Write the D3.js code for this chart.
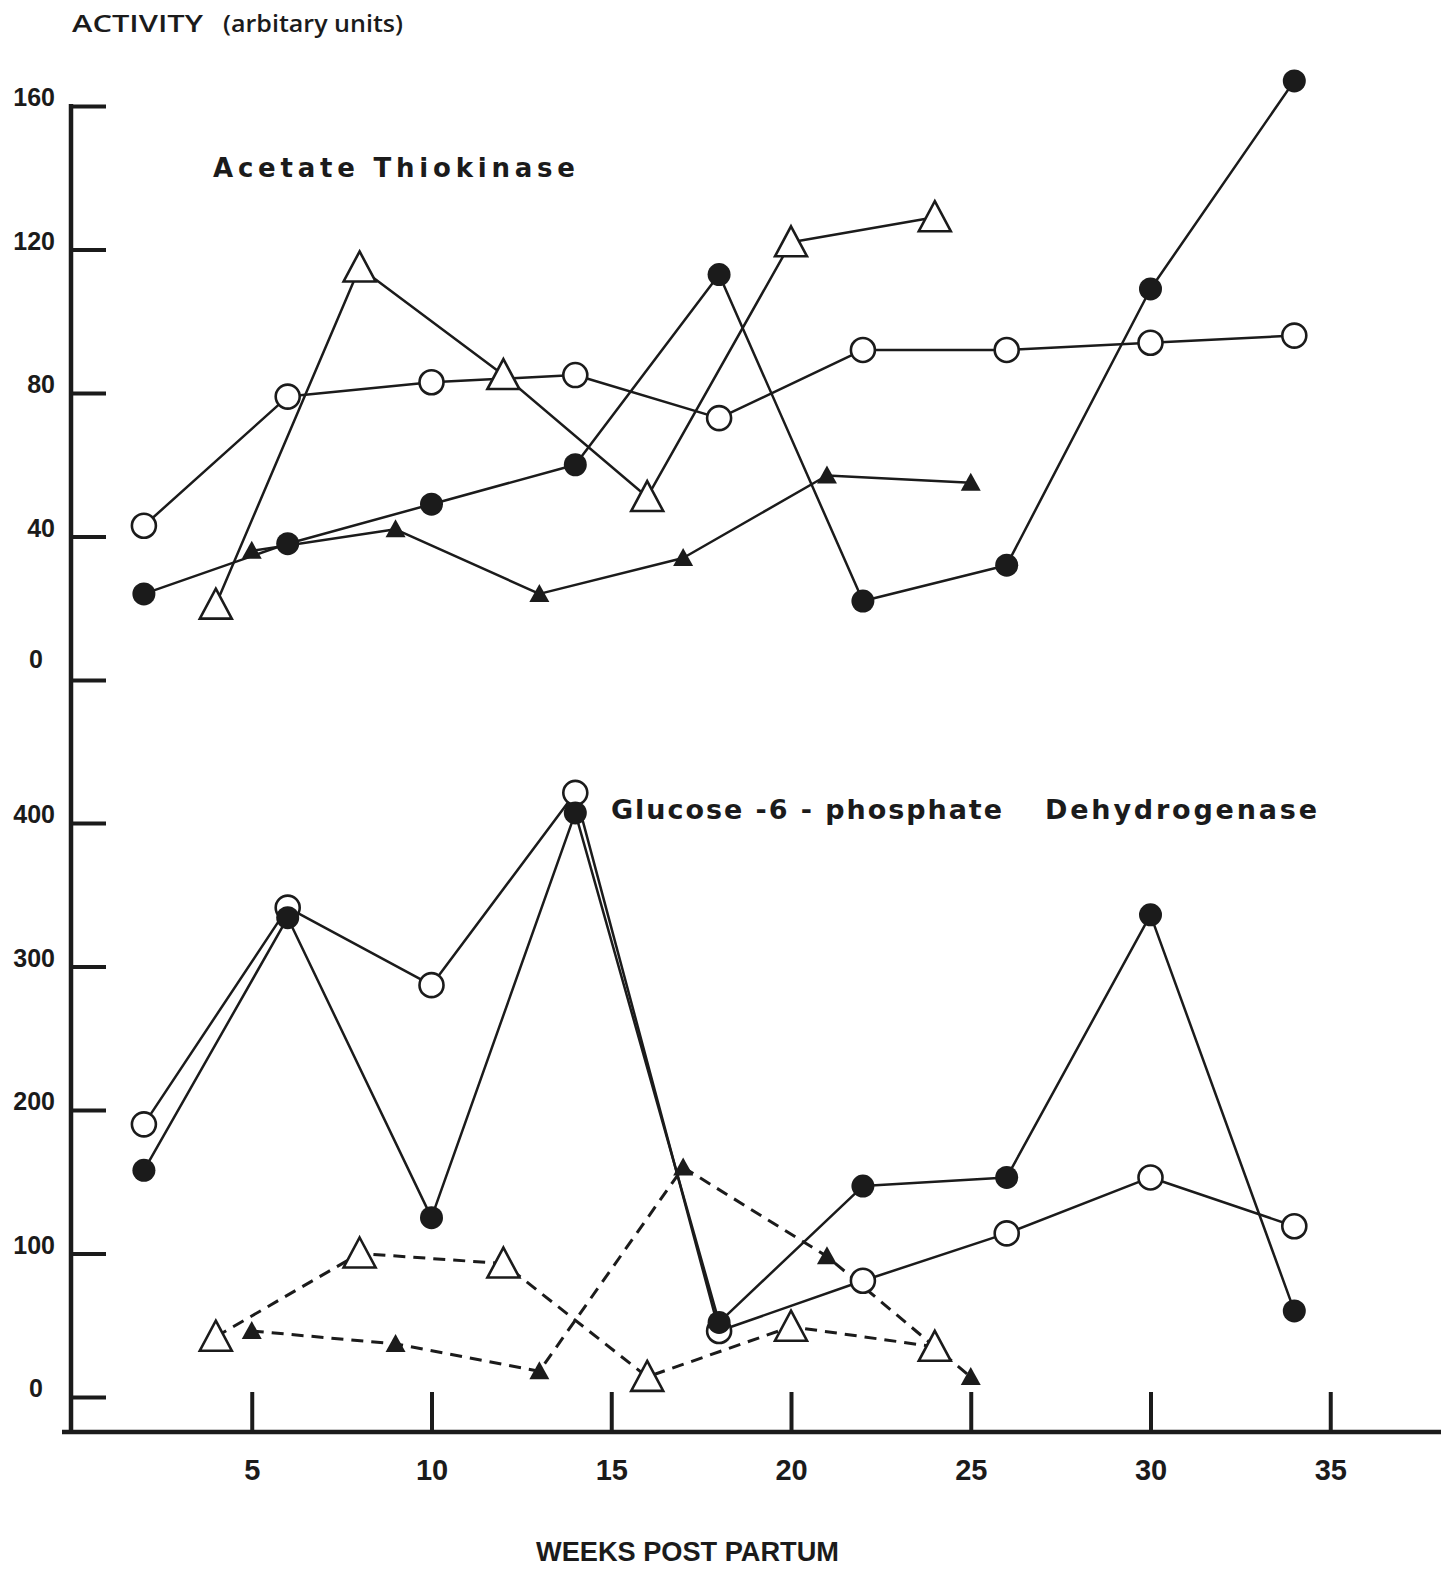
<!DOCTYPE html>
<html>
<head>
<meta charset="utf-8">
<script src="https://cdn.jsdelivr.net/npm/d3@7"></script>
<style>
  html, body { margin: 0; padding: 0; background: #ffffff; }
  svg { display: block; }
</style>
</head>
<body>
<svg id="chart" width="1441" height="1576"></svg>
<script>
// Weeks post partum at which each group was sampled
const weeksCircle = [2, 6, 10, 14, 18, 22, 26, 30, 34];
const weeksOpenTri = [4, 8, 12, 16, 20, 24];
const weeksFilledTri = [5, 9, 13, 17, 21, 25];

// Acetate thiokinase activity (arbitrary units)
const atOpenCircle = [43, 79, 83, 85, 73, 92, 92, 94, 96];
const atFilledCircle = [24, 38, 49, 60, 113, 22, 32, 109, 167];
const atOpenTri = [21, 115, 85, 51, 122, 129];
const atFilledTri = [36, 42, 24, 34, 57, 55];

// Glucose-6-phosphate dehydrogenase activity (arbitrary units)
const g6OpenCircle = [190, 341, 287, 421, 46, 81, 114, 153, 119];
const g6FilledCircle = [158, 334, 125, 407, 52, 147, 153, 336, 60];
const g6OpenTri = [42, 100, 93, 14, 49, 35];
const g6FilledTri = [46, 37, 18, 160, 98, 14];

// Axis ticks
const xTicks = [5, 10, 15, 20, 25, 30, 35];
const yTicksTop = [0, 40, 80, 120, 160];
const yTicksBottom = [0, 100, 200, 300, 400];

const INK = "#1b1b1b";
const svg = d3.select("#chart");
svg.append("rect").attr("width", 1441).attr("height", 1576).attr("fill", "#ffffff");

const axisX = 71;       // vertical axis position
const baseY = 1432;     // horizontal axis position

const x = d3.scaleLinear().domain([0, 35]).range([72, 72 + 35 * 35.95]);
const yTop = d3.scaleLinear().domain([0, 160]).range([680, 106]);
const yBot = d3.scaleLinear().domain([0, 400]).range([1397, 823]);

// ---- axes ----
svg.append("line")
  .attr("x1", axisX).attr("x2", axisX)
  .attr("y1", yTop(160) - 2).attr("y2", baseY + 2)
  .attr("stroke", INK).attr("stroke-width", 4.5);

svg.append("line")
  .attr("x1", 62).attr("x2", 1441)
  .attr("y1", baseY).attr("y2", baseY)
  .attr("stroke", INK).attr("stroke-width", 4.5);

function yAxis(scale, ticks, zeroLift) {
  const g = svg.append("g")
    .attr("transform", `translate(${axisX},0)`)
    .call(d3.axisRight(scale).tickValues(ticks).tickSize(35).tickFormat(""));
  g.select(".domain").remove();
  g.selectAll("line").attr("stroke", INK).attr("stroke-width", 4);
  svg.append("g").selectAll("text").data(ticks).join("text")
    .attr("x", d => d === 0 ? 36 : 55)
    .attr("y", d => scale(d) - (d === 0 ? zeroLift : 9))
    .attr("text-anchor", d => d === 0 ? "middle" : "end")
    .attr("dominant-baseline", "central")
    .attr("font-family", "'Liberation Sans', Arial, sans-serif")
    .attr("font-weight", "bold")
    .attr("font-size", 25)
    .attr("fill", INK)
    .text(d => d);
}
yAxis(yTop, yTicksTop, 21);
yAxis(yBot, yTicksBottom, 9);

const xg = svg.append("g")
  .attr("transform", `translate(0,${baseY})`)
  .call(d3.axisBottom(x).tickValues(xTicks).tickSizeInner(-40).tickSizeOuter(0).tickPadding(27));
xg.select(".domain").remove();
xg.selectAll("line").attr("stroke", INK).attr("stroke-width", 4);
xg.selectAll("text")
  .attr("font-family", "'Liberation Sans Narrow', 'Liberation Sans', Arial, sans-serif")
  .attr("font-weight", "bold")
  .attr("font-size", 29)
  .attr("fill", INK);

// ---- titles ----
function label(txt, x0, x1, yb, size, family, weight, adjust) {
  svg.append("text")
    .attr("x", x0).attr("y", yb)
    .attr("textLength", x1 - x0)
    .attr("lengthAdjust", adjust)
    .attr("font-family", family)
    .attr("font-weight", weight)
    .attr("font-size", size)
    .attr("fill", INK)
    .text(txt);
}
label("ACTIVITY", 72, 203, 32, 23, "'Open Sans', sans-serif", 600, "spacingAndGlyphs");
label("(arbitary units)", 223, 403, 32, 23, "'Open Sans', sans-serif", 600, "spacingAndGlyphs");
label("Acetate Thiokinase", 213, 575, 177, 26, "'DejaVu Sans', sans-serif", "bold", "spacing");
label("Glucose -6 - phosphate", 611, 1002, 819, 27, "'DejaVu Sans', sans-serif", "bold", "spacing");
label("Dehydrogenase", 1045, 1317, 819, 27, "'DejaVu Sans', sans-serif", "bold", "spacing");
label("WEEKS POST PARTUM", 536, 839, 1561, 27, "'Liberation Sans', Arial, sans-serif", "bold", "spacingAndGlyphs");

// ---- series ----
const bigTri = "M0,-16L16,14L-16,14Z";
const smallTri = "M0,-10L10,8L-10,8Z";

const series = [
  { weeks: weeksCircle, vals: atFilledCircle, y: yTop, dash: null, mark: "fcircle" },
  { weeks: weeksCircle, vals: atOpenCircle, y: yTop, dash: null, mark: "ocircle" },
  { weeks: weeksOpenTri, vals: atOpenTri, y: yTop, dash: null, mark: "otri" },
  { weeks: weeksFilledTri, vals: atFilledTri, y: yTop, dash: null, mark: "ftri" },
  { weeks: weeksCircle, vals: g6OpenCircle, y: yBot, dash: null, mark: "ocircle" },
  { weeks: weeksCircle, vals: g6FilledCircle, y: yBot, dash: null, mark: "fcircle" },
  { weeks: weeksOpenTri, vals: g6OpenTri, y: yBot, dash: "12,8", mark: "otri" },
  { weeks: weeksFilledTri, vals: g6FilledTri, y: yBot, dash: "12,8", mark: "ftri" }
];

const linesG = svg.append("g");
const marksG = svg.append("g");

series.forEach(s => {
  const pts = s.weeks.map((w, i) => [x(w), s.y(s.vals[i])]);
  linesG.append("path")
    .attr("d", d3.line()(pts))
    .attr("fill", "none")
    .attr("stroke", INK)
    .attr("stroke-width", s.dash ? 3 : 2.5)
    .attr("stroke-dasharray", s.dash)
    .attr("stroke-linejoin", "round");
});

series.forEach(s => {
  const pts = s.weeks.map((w, i) => [x(w), s.y(s.vals[i])]);
  const sel = marksG.append("g").selectAll("g").data(pts).join("g")
    .attr("transform", d => `translate(${d[0]},${d[1]})`);
  if (s.mark === "ocircle") {
    sel.append("circle").attr("r", 12).attr("fill", "#fff").attr("stroke", INK).attr("stroke-width", 2.6);
  } else if (s.mark === "fcircle") {
    sel.append("circle").attr("r", 11.5).attr("fill", INK);
  } else if (s.mark === "otri") {
    sel.append("path").attr("d", bigTri).attr("fill", "#fff").attr("stroke", INK)
      .attr("stroke-width", 2.6).attr("stroke-linejoin", "miter");
  } else {
    sel.append("path").attr("d", smallTri).attr("fill", INK);
  }
});
</script>
</body>
</html>
